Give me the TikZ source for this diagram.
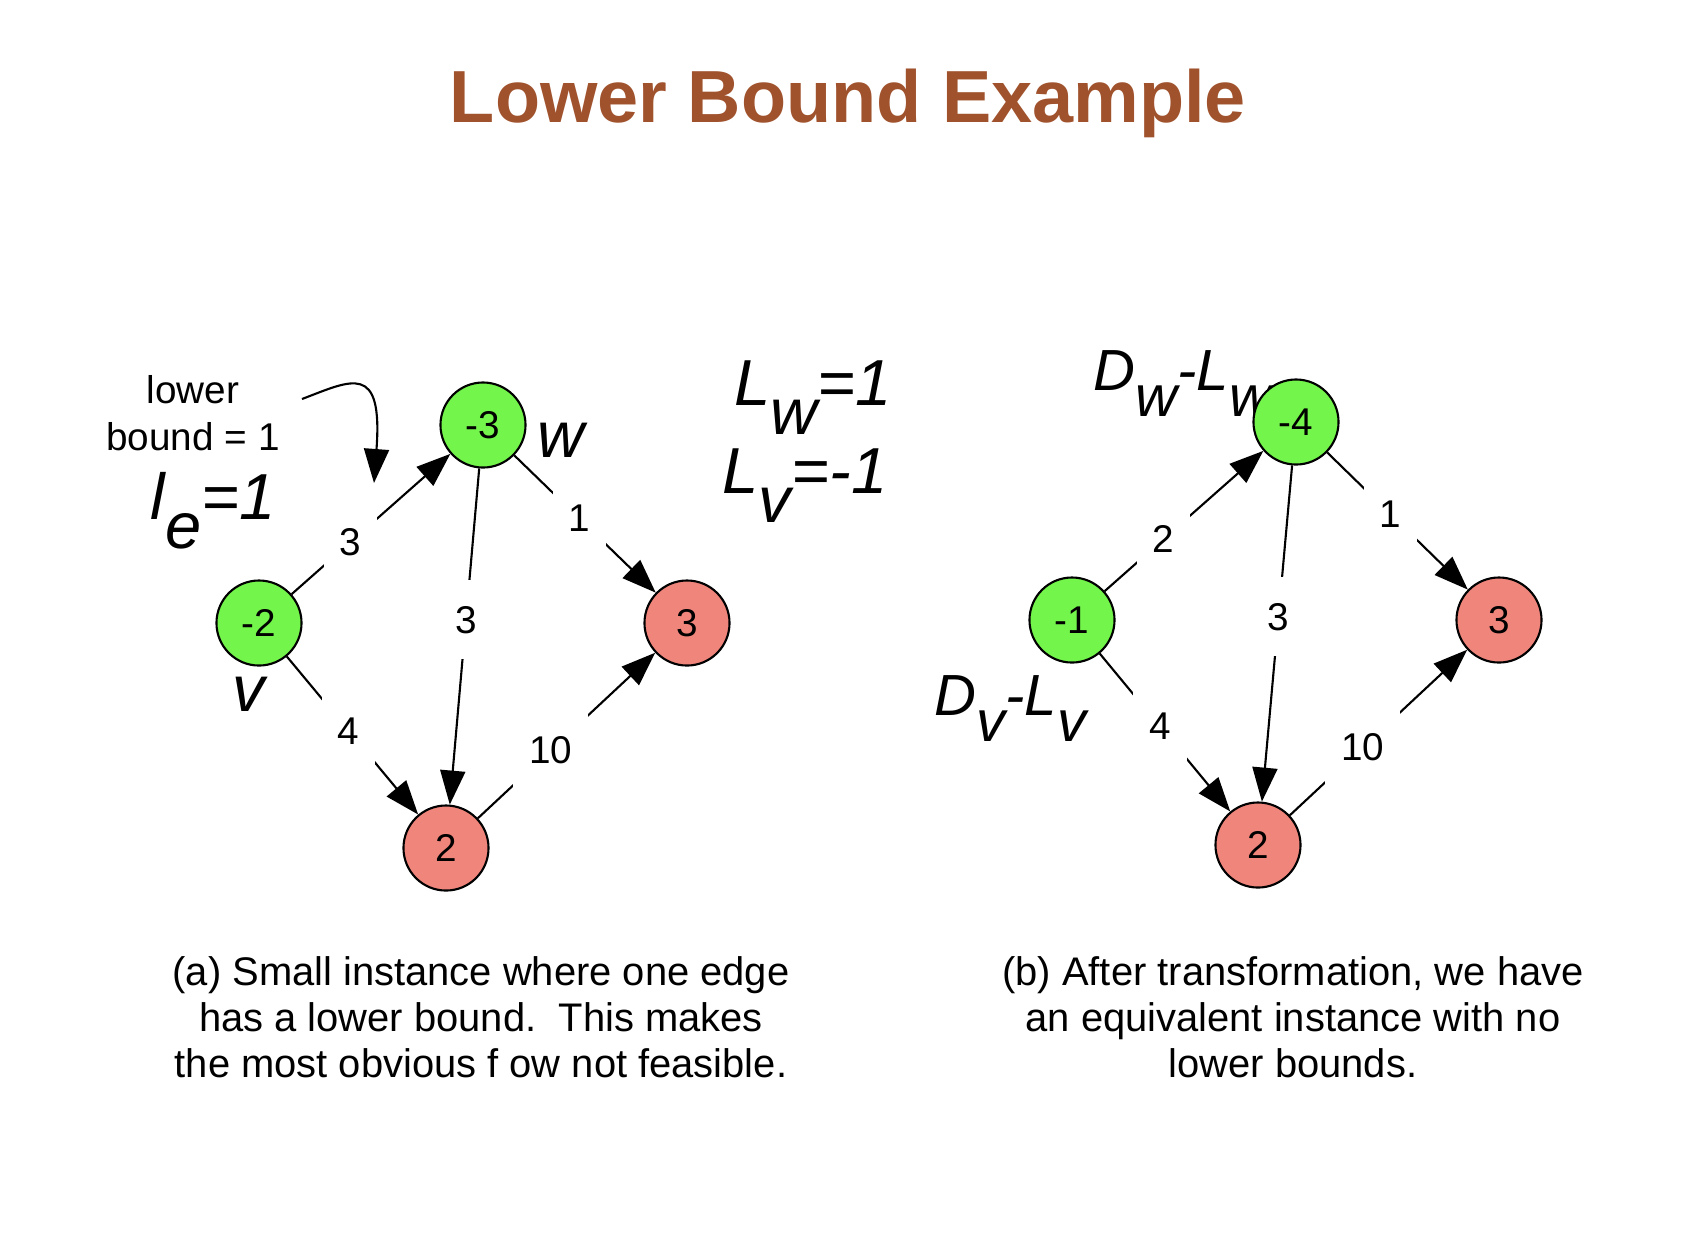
\documentclass[tikz,border=0pt]{standalone}
\usepackage{fontspec}
\setmainfont{Liberation Sans}
\usetikzlibrary{arrows.meta}
\definecolor{titlebrown}{RGB}{160,82,45}
\definecolor{sourcegreen}{RGB}{115,245,75}
\definecolor{sinkred}{RGB}{240,133,124}
\newcommand{\lowsub}[1]{\raisebox{-0.45em}{#1}}

\begin{document}
\begin{tikzpicture}[
        x=0.01cm,
        y=-0.01cm,
        vertex/.style={circle,draw,line width=0.6pt,minimum size=0.85cm,
            inner sep=0pt,font=\fontsize{11}{13}\selectfont},
        source/.style={vertex,fill=sourcegreen},
        sink/.style={vertex,fill=sinkred},
        flow edge/.style={line width=0.6pt,-{Triangle[length=0.34cm,width=0.25cm]}},
        edge label/.style={fill=white,inner xsep=0.16cm,inner ysep=0.26cm,
            font=\fontsize{11}{13}\selectfont},
        big label/.style={font=\fontsize{18.5}{22}\selectfont\itshape},
        mid label/.style={font=\fontsize{16.5}{19}\selectfont\itshape},
        caption/.style={align=center,inner sep=0pt,font=\fontsize{11.35}{13.1}\selectfont}
    ]
        \useasboundingbox (0,0) rectangle (1684,1232);
        \node[anchor=base,text=titlebrown,font=\fontsize{21}{25}\selectfont\bfseries]
            (title) at (848,122) {Lower Bound Example};

        % The small instance with a lower bound on the edge v -> w.
        \node[source] (aw) at (483,425) {-3};
        \node[source] (av) at (259,623) {-2};
        \node[sink] (at) at (687,623) {3};
        \node[sink] (ab) at (446,848) {2};
        \draw[flow edge] (av) -- node[edge label,pos=0.37] (avw) {3} (aw);
        \draw[flow edge] (aw) -- node[edge label,pos=0.45] (awb) {3} (ab);
        \draw[flow edge] (aw) -- node[edge label,pos=0.46] (awt) {1} (at);
        \draw[flow edge] (av) -- node[edge label,pos=0.47] (avb) {4} (ab);
        \draw[flow edge] (ab) -- node[edge label,pos=0.41] (abt) {10} (at);
        \node[big label] (wname) at (561,440) {w};
        \node[big label] (vname) at (249,694) {v};

        % The note pointing at the bounded edge.
        \node[align=center,font=\fontsize{11}{13.4}\selectfont] (note) at (193,413)
            {lower\\bound = 1};
        \coordinate (notestart) at (302,399);
        \coordinate (noteend) at (374,483);
        \draw[flow edge] (notestart) .. controls (352,380) and (383,362) .. (noteend);
        \node[big label,anchor=base west,inner sep=0pt] (le) at (150,519)
            {l\lowsub{e}=1};

        % The shifts of the supplies.
        \node[big label,anchor=base west,inner sep=0pt] (lw) at (734,405)
            {L\lowsub{w}=1};
        \node[big label,anchor=base west,inner sep=0pt] (lv) at (722,493)
            {L\lowsub{v}=-1};

        % The transformed instance without lower bounds.
        \node[mid label,anchor=base west,inner sep=0pt] (dw) at (1093,390)
            {D\lowsub{w}-L\lowsub{w}};
        \node[mid label,anchor=base west,inner sep=0pt] (dv) at (934,715)
            {D\lowsub{v}-L\lowsub{v}};
        \node[source] (bw) at (1296,422) {-4};
        \node[source] (bv) at (1072,620) {-1};
        \node[sink] (bt) at (1499,620) {3};
        \node[sink] (bb) at (1258,845) {2};
        \draw[flow edge] (bv) -- node[edge label,pos=0.37] (bvw) {2} (bw);
        \draw[flow edge] (bw) -- node[edge label,pos=0.45] (bwb) {3} (bb);
        \draw[flow edge] (bw) -- node[edge label,pos=0.45] (bwt) {1} (bt);
        \draw[flow edge] (bv) -- node[edge label,pos=0.46] (bvb) {4} (bb);
        \draw[flow edge] (bb) -- node[edge label,pos=0.41] (bbt) {10} (bt);

        % Captions.
        \node[caption] (capa) at (481,1017)
            {(a) Small instance where one edge\\has a lower bound.\ \ This makes\\the most obvious f ow not feasible.};
        \node[caption] (capb) at (1293,1017)
            {(b) After transformation, we have\\an equivalent instance with no\\lower bounds.};
    \end{tikzpicture}
\end{document}
